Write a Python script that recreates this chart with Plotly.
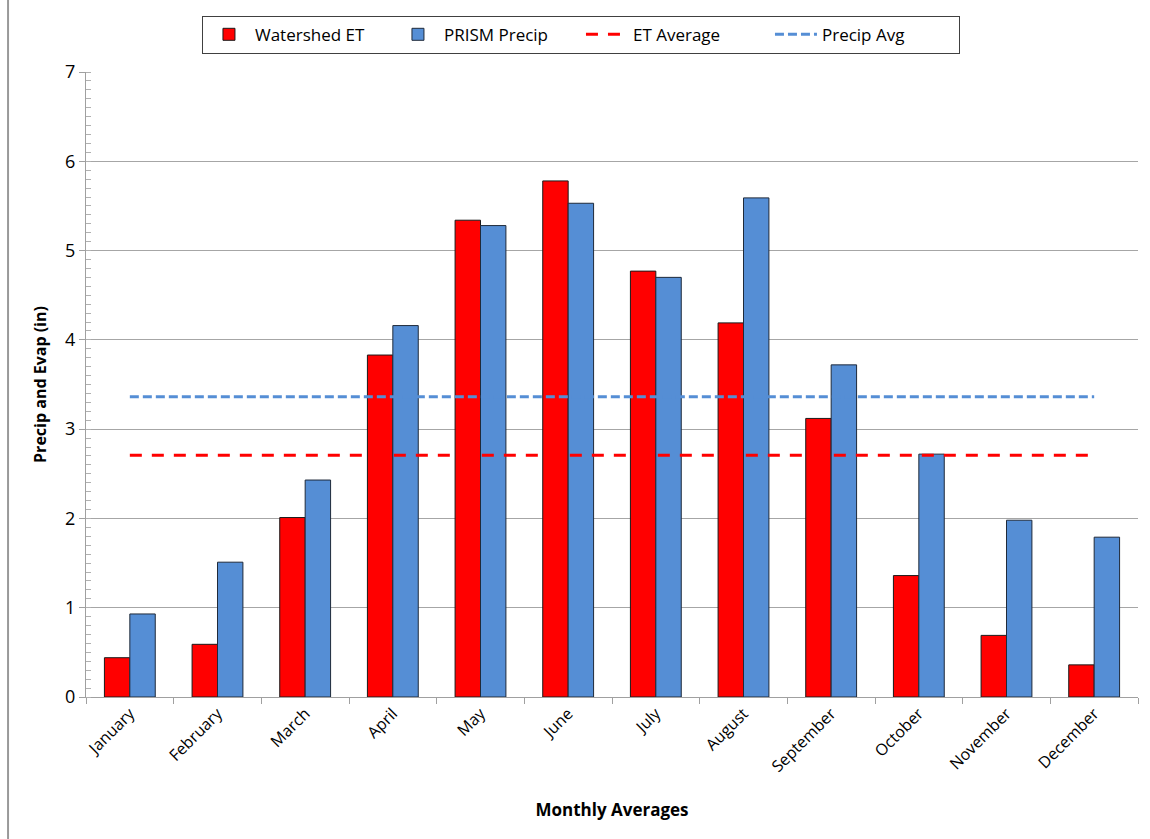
import plotly.graph_objects as go

# Monthly averages (inches)
months = ["January", "February", "March", "April", "May", "June",
          "July", "August", "September", "October", "November", "December"]
watershed_et = [0.44, 0.59, 2.01, 3.83, 5.34, 5.78, 4.77, 4.19, 3.12, 1.36, 0.69, 0.36]
prism_precip = [0.93, 1.51, 2.43, 4.16, 5.28, 5.53, 4.70, 5.59, 3.72, 2.72, 1.98, 1.79]

et_avg = sum(watershed_et) / len(watershed_et)
precip_avg = sum(prism_precip) / len(prism_precip)

FONT = "Open Sans"
RED = "#FF0000"
BLUE = "#558ED5"

fig = go.Figure()

fig.add_trace(go.Bar(
    x=months, y=watershed_et, name="Watershed ET",
    marker=dict(color=RED, line=dict(color="#1a1a1a", width=1)),
))
fig.add_trace(go.Bar(
    x=months, y=prism_precip, name="PRISM Precip",
    marker=dict(color=BLUE, line=dict(color="#1f2a3a", width=1)),
))
fig.add_trace(go.Scatter(
    x=months, y=[et_avg] * len(months), name="ET Average", mode="lines",
    line=dict(color=RED, width=3, dash="12px,10px"),
))
fig.add_trace(go.Scatter(
    x=months, y=[precip_avg] * len(months), name="Precip Avg", mode="lines",
    line=dict(color=BLUE, width=3, dash="9px,4px"),
))

fig.update_layout(
    width=1150, height=839,
    margin=dict(l=86, r=12, t=72, b=142),
    paper_bgcolor="white", plot_bgcolor="white",
    font=dict(family=FONT, color="black"),
    barmode="group", bargap=0.42, bargroupgap=0,
    showlegend=True,
    legend=dict(
        orientation="h", x=0.4705, xanchor="center", y=1.09, yanchor="top",
        bordercolor="#404040", borderwidth=1, bgcolor="white",
        font=dict(family=FONT, size=17, color="black"),
        itemwidth=42, traceorder="normal",
        entrywidth=132, entrywidthmode="pixels",
    ),
    xaxis=dict(
        type="category",
        showline=True, linecolor="#a0a0a0", linewidth=1,
        ticks="outside", tickson="boundaries", ticklen=6, tickcolor="#a0a0a0",
        tickangle=-45, tickfont=dict(family=FONT, size=16),
        showgrid=False,
        title=dict(text="<b>Monthly Averages</b>", font=dict(family=FONT, size=17), standoff=28),
    ),
    yaxis=dict(
        range=[0, 7], dtick=1,
        showline=True, linecolor="#a0a0a0", linewidth=1,
        ticks="outside", ticklen=6, tickcolor="#a0a0a0",
        tickfont=dict(family=FONT, size=18),
        showgrid=True, gridcolor="#a6a6a6", gridwidth=1,
        zeroline=False,
        minor=dict(dtick=0.1, ticks="inside", ticklen=5, tickcolor="#b0b0b0", showgrid=False),
        title=dict(text="<b>Precip and Evap (in)</b>", font=dict(family=FONT, size=16), standoff=14),
    ),
    shapes=[
        dict(type="line", xref="paper", yref="paper",
             x0=-0.0741, x1=-0.0741, y0=-0.23, y1=1.12,
             line=dict(color="#999999", width=2)),
    ],
)

fig.write_html("out.html")
